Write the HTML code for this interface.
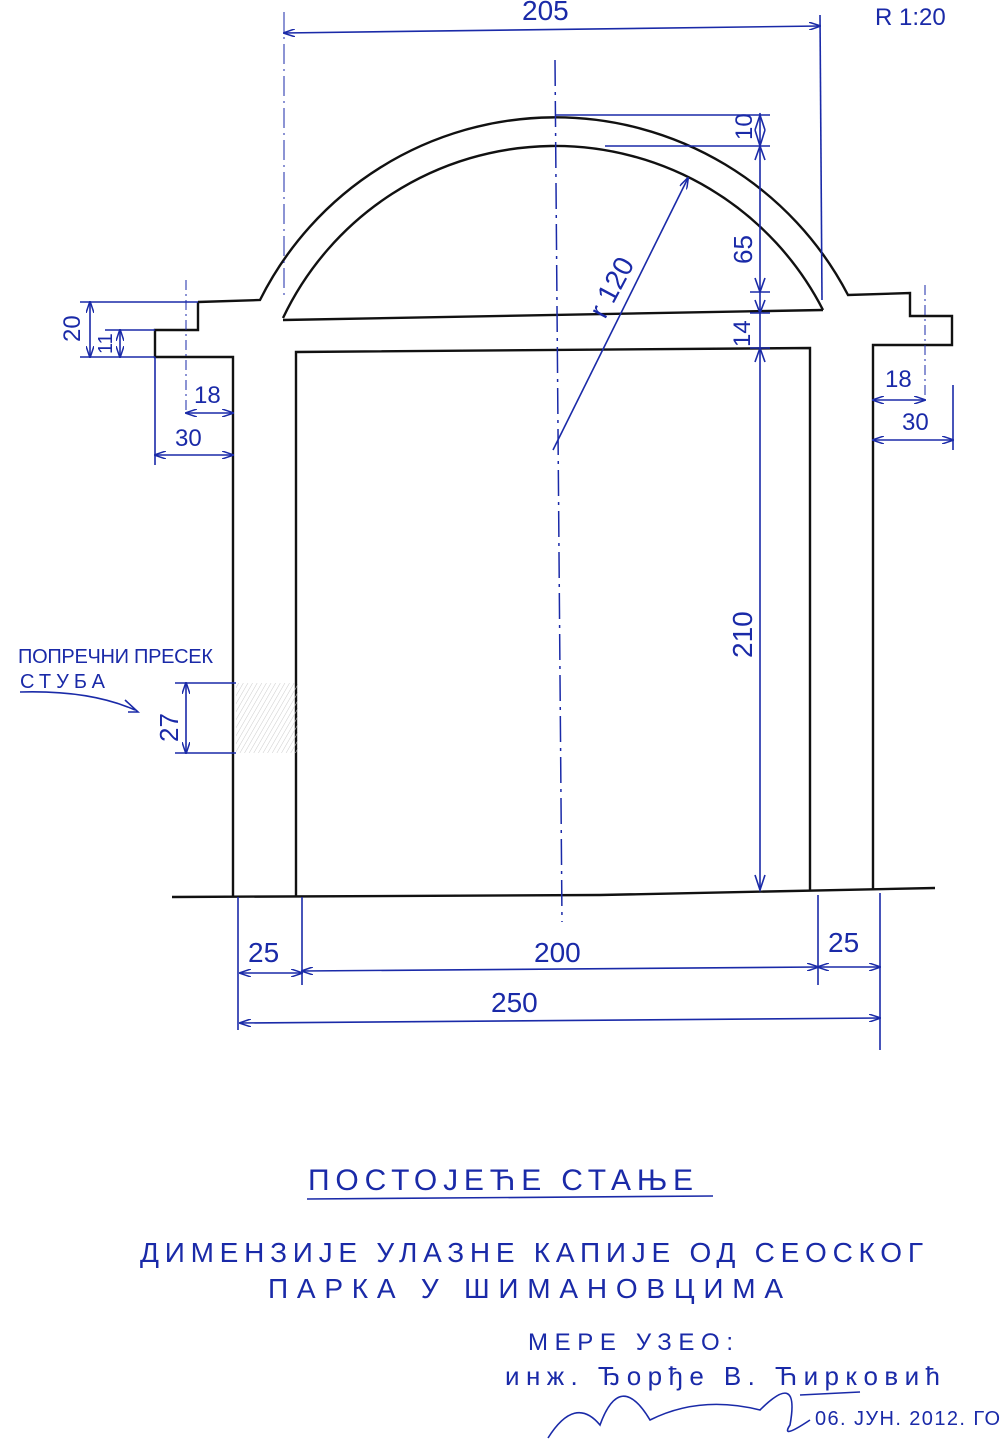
<!DOCTYPE html>
<html><head><meta charset="utf-8"><style>
html,body{margin:0;padding:0;background:#fff}
svg{display:block}
text{font-family:"Liberation Sans","DejaVu Sans",sans-serif;fill:#1a2aa8}
</style></head><body>
<svg width="1000" height="1441" viewBox="0 0 1000 1441" xmlns="http://www.w3.org/2000/svg">
<rect width="1000" height="1441" fill="#fff"/>
<defs>
<marker id="a" markerWidth="12" markerHeight="8" refX="11" refY="4" orient="auto-start-reverse" markerUnits="userSpaceOnUse"><path d="M0,0 L12,4 L0,8" fill="none" stroke="#1a2aa8" stroke-width="1.5"/></marker>
<pattern id="h" width="4" height="4" patternUnits="userSpaceOnUse" patternTransform="rotate(30)"><line x1="0" y1="0" x2="0" y2="4" stroke="#ccc" stroke-width="1"/></pattern>
</defs>
<g fill="none" stroke="#111" stroke-width="2.4">
<path d="M198,302 L260,300 A330,330 0 0 1 848,295 L910,293 L910,316 L952,316 L952,345 L873,345 L873,890"/>
<path d="M198,302 L198,330 L155,330 L155,357 L233,357 L233,897"/>
<path d="M283,318 A301,301 0 0 1 823,310"/>
<path d="M283,320 L823,310"/>
<path d="M296,897 L296,352 L810,348 L810,890"/>
<path d="M172,897 L600,895 L935,888"/>
</g>
<rect x="236" y="683" width="62" height="70" fill="url(#h)"/>
<line x1="555" y1="60" x2="562" y2="922" stroke="#1a2aa8" stroke-width="1.5" stroke-dasharray="26,6,3,6"/>
<line x1="284" y1="12" x2="284" y2="300" stroke="#1a2aa8" stroke-width="1" stroke-dasharray="20,5,2,5"/>
<line x1="186" y1="280" x2="186" y2="410" stroke="#1a2aa8" stroke-width="1" stroke-dasharray="10,4,2,4"/>
<line x1="925" y1="285" x2="925" y2="400" stroke="#1a2aa8" stroke-width="1" stroke-dasharray="10,4,2,4"/>
<g stroke="#1a2aa8" stroke-width="1.6" fill="none">
<line x1="284" y1="33" x2="820" y2="26" marker-start="url(#a)" marker-end="url(#a)"/>
<line x1="820" y1="15" x2="822" y2="300"/>
<line x1="555" y1="115" x2="770" y2="115"/>
<line x1="605" y1="146" x2="770" y2="146"/>
<line x1="760" y1="113" x2="760" y2="890"/>
<line x1="750" y1="292" x2="770" y2="292"/>
<line x1="750" y1="313" x2="770" y2="313"/>
<line x1="750" y1="348" x2="770" y2="348"/>
<path d="M755,130 L760,146 L765,130 M755,130 L760,115 L765,130"/>
<path d="M755,160 L760,146 L765,160 M755,278 L760,292 L765,278"/>
<path d="M755,300 L760,313 L765,300 M755,362 L760,348 L765,362"/>
<path d="M755,875 L760,890 L765,875"/>
<line x1="553" y1="450" x2="688" y2="178" marker-end="url(#a)"/>
<line x1="80" y1="302" x2="198" y2="302"/>
<line x1="105" y1="330" x2="155" y2="330"/>
<line x1="80" y1="357" x2="155" y2="357"/>
<line x1="90" y1="302" x2="90" y2="357" marker-start="url(#a)" marker-end="url(#a)"/>
<line x1="120" y1="330" x2="120" y2="357" marker-start="url(#a)" marker-end="url(#a)"/>
<line x1="155" y1="357" x2="155" y2="465"/>
<line x1="186" y1="413" x2="233" y2="413" marker-start="url(#a)" marker-end="url(#a)"/>
<line x1="155" y1="455" x2="233" y2="455" marker-start="url(#a)" marker-end="url(#a)"/>
<line x1="873" y1="400" x2="925" y2="400" marker-start="url(#a)" marker-end="url(#a)"/>
<line x1="873" y1="440" x2="953" y2="440" marker-start="url(#a)" marker-end="url(#a)"/>
<line x1="953" y1="385" x2="953" y2="450"/>
<line x1="175" y1="683" x2="236" y2="683"/>
<line x1="175" y1="753" x2="236" y2="753"/>
<line x1="186" y1="683" x2="186" y2="753" marker-start="url(#a)" marker-end="url(#a)"/>
<path d="M20,692 Q90,690 135,710"/>
<path d="M125,700 L138,712 L128,712"/>
<line x1="238" y1="897" x2="238" y2="1030"/>
<line x1="302" y1="897" x2="302" y2="985"/>
<line x1="818" y1="895" x2="818" y2="985"/>
<line x1="880" y1="893" x2="880" y2="1050"/>
<line x1="240" y1="973" x2="302" y2="973" marker-start="url(#a)" marker-end="url(#a)"/>
<line x1="302" y1="971" x2="818" y2="967" marker-start="url(#a)" marker-end="url(#a)"/>
<line x1="818" y1="967" x2="880" y2="967" marker-start="url(#a)" marker-end="url(#a)"/>
<line x1="240" y1="1023" x2="880" y2="1018" marker-start="url(#a)" marker-end="url(#a)"/>
<line x1="307" y1="1199" x2="713" y2="1196"/>
<path d="M800,1395 L860,1392"/>
<path d="M548,1438 Q575,1395 600,1425 Q620,1370 650,1420 Q700,1395 760,1410 Q800,1370 790,1425 Q780,1440 810,1420"/>
</g>
<g font-size="28">
<text x="522" y="20">205</text>
<text x="875" y="25" font-size="24">R 1:20</text>
<text x="248" y="962">25</text>
<text x="534" y="962">200</text>
<text x="828" y="952">25</text>
<text x="491" y="1012">250</text>
<text x="194" y="403" font-size="24">18</text>
<text x="175" y="446" font-size="24">30</text>
<text x="885" y="387" font-size="24">18</text>
<text x="902" y="430" font-size="24">30</text>
<text transform="translate(80,342) rotate(-90)" font-size="24">20</text>
<text transform="translate(112,354) rotate(-90)" font-size="20">11</text>
<text transform="translate(752,140) rotate(-90)" font-size="24">10</text>
<text transform="translate(752,264) rotate(-90)" font-size="26">65</text>
<text transform="translate(750,347) rotate(-90)" font-size="24">14</text>
<text transform="translate(752,658) rotate(-90)">210</text>
<text transform="translate(178,742) rotate(-90)" font-size="26">27</text>
<text transform="translate(605,320) rotate(-62)">r 120</text>
</g>
<g font-size="20">
<text x="18" y="663" textLength="195">ПОПРЕЧНИ ПРЕСЕК</text>
<text x="20" y="688" textLength="85">СТУБА</text>
<text x="308" y="1190" font-size="30" textLength="385">ПОСТОЈЕЋЕ СТАЊЕ</text>
<text x="140" y="1262" font-size="28" textLength="783">ДИМЕНЗИЈЕ УЛАЗНЕ КАПИЈЕ ОД СЕОСКОГ</text>
<text x="268" y="1298" font-size="28" textLength="515">ПАРКА У ШИМАНОВЦИМА</text>
<text x="528" y="1350" font-size="24" textLength="205">МЕРЕ УЗЕО:</text>
<text x="505" y="1385" font-size="26" textLength="435">инж. Ђорђе В. Ћирковић</text>
<text x="815" y="1425" font-size="20" textLength="185">06. ЈУН. 2012. ГО</text>
</g>
</svg>
</body></html>
